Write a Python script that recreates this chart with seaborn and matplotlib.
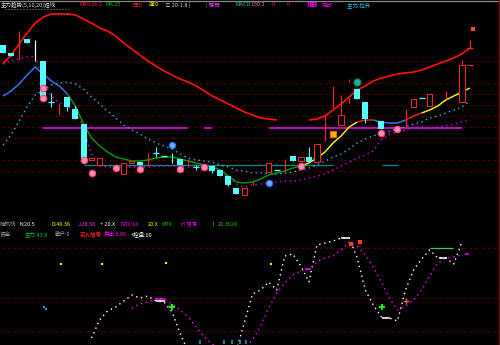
import numpy as np
import pandas as pd
import matplotlib
matplotlib.use("Agg")
import matplotlib.pyplot as plt
from matplotlib.lines import Line2D
import seaborn as sns

NAN = np.nan

# ---------------- data (screen levels: larger level = drawn lower) ----------------
day = np.arange(59)

arc_line = [64, 55, 44, 33, 23, 17, 14, 14, 14, 15,
            19, 23, 28, 31, 36, 43, 49, 55, 61, 66,
            71, 75, 79, 82, 86, 91, 96, 100, 104, 108,
            112, 115, 118, 119, 120, NAN, NAN, NAN, 120, 119,
            116, 110, 104, 97, 90, 86, 81, 78, 76, 74,
            73, 72, 70, 67, 64, 61, 58, 54, 48]

trend_line = [96, 91, 84, 75, 67, 74, 81, 86, 94, 106,
              124, 138, 146, 152, 157, 159, 161, 161, 160, 158,
              157, 157, 159, 161, 163, 165, 167, 170, 176, 182,
              183, 182, 179, 175, 173, 171, 168, 166, 163, 158,
              152, 143, 136, 127, 122, 120, 120, 122, 123, 123,
              120, 116, 113, 110, 106, 100, 96, 92, 88]

ma_cyan = [145, 135, 121, 107, 95, 90, 85, 83, 82, 84,
           89, 97, 104, 111, 118, 125, 130, 134, 139, 143,
           146, 149, 154, 158, 160, 161, 162, 165, 167, 170,
           171, 173, 173, 174, 174, 173, 172, 170, 168, 165,
           161, 157, 154, 149, 143, 139, 136, 133, 131, 129,
           127, 124, 122, 118, 116, 113, 110, 107, 101]

ma_magenta = [64, 61, 59, 57, 56, 82, 96, 103, 107, 110,
              128, 155, 166, 167, 167, 167, 167, 167, 167, 166,
              166, 166, 166, 167, 167, 168, 170, 171, 177, 184,
              187, 185, 184, 183, 182, 181, 181, 180, 178, 176,
              174, 170, 166, 162, 158, 155, 151, 140, 134, 132,
              130, 127, 127, 128, 127, 126, 124, 122, 120]

# trend line colour runs (start day, end day, colour)
trend_runs = [(0, 8, "#2f7fff"), (8, 37, "#00a000"), (37, 44, "#ffff00"),
              (44, 46, "#ff2020"), (46, 50, "#2f7fff"), (50, 52, "#ff2020"),
              (52, 58, "#ffff00")]

# falling candles (cyan filled)
down_idx = [0, 1, 3, 5, 8, 9, 10, 14, 17, 22, 26, 27, 28, 29, 36, 38, 44, 45, 47]
down_open = [45, 53, 39, 61, 97, 109, 124, 166, 162, 159, 166, 170, 176, 188, 156, 157, 89, 102, 121]
down_close = [53, 56, 43, 99, 107, 119, 161, 169, 165, 165, 171, 176, 185, 194, 161, 162, 99, 119, 129]
down_high = [45, 53, 39, 61, 97, 106, 124, 166, 162, 159, 166, 170, 176, 188, 156, 147, 89, 102, 121]
down_low = [53, 56, 43, 99, 111, 119, 161, 169, 165, 165, 173, 176, 186, 194, 161, 162, 99, 123, 129]

# rising candles (red hollow)
up_idx = [11, 12, 15, 16, 25, 30, 33, 37, 39, 42, 51, 53, 57]
up_close = [158, 158, 163, 161, 166, 188, 163, 157, 144, 115, 99, 94, 65]
up_open = [160, 165, 174, 163, 168, 195, 172, 161, 162, 125, 107, 106, 102]
up_high = [157, 158, 163, 161, 166, 188, 163, 157, 144, 95, 99, 94, 60]
up_low = [160, 165, 174, 163, 168, 195, 172, 161, 162, 125, 107, 106, 102]

# cyan doji candles
doji_idx = [6, 19, 20, 24, 34, 52]
doji_level = [102, 153, 156, 167, 170, 98]
doji_high = [93, 147, 156, 165, 170, 98]
doji_low = [107, 157, 156, 170, 170, 98]

# shadow-only sticks
red_stick_idx = [2, 7, 18, 23, 31, 35, 40, 41, 43, 43, 50, 55, 58]
red_stick_high = [31, 104, 153, 159, 182, 159, 116, 86, 79, 98, 109, 91, 40]
red_stick_low = [60, 115, 166, 165, 185, 172, 141, 108, 82, 103, 127, 99, 48]
cyan_stick_idx = [21]
cyan_stick_high = [153]
cyan_stick_low = [163]
white_stick_idx = [4]
white_stick_high = [40]
white_stick_low = [61]
red_tick_idx = [58, 58]
red_tick_level = [48, 65]

# signal markers
pink_idx = [5, 5, 10, 11, 14, 17, 22, 25, 37, 47, 49]
pink_level = [88, 98, 160, 173, 168, 169, 169, 167, 166, 133, 129]
blue_idx = [21, 33]
blue_level = [145, 183]
teal_idx = [44]
teal_level = [82]
gold_idx = [41]
gold_level = [134]
orange_idx = [58.4]
orange_level = [29]

# horizontal support / pressure lines (start day, end day, level)
magenta_support = [(4.97, 23.0, 128), (24.97, 25.96, 128), (33.0, 57.0, 128)]
teal_support = [(10.06, 41.0, 165), (47.08, 49.07, 165)]

main_grid = [61, 83, 94, 105, 116, 127, 138, 160, 171]
low_grid = [248, 298, 331]

# lower indicator panel
osc_white = [NAN] * 11 + [338, 320, 311, 307, 301, 295, 298, 296, 301, 302,
                          312, 333, 352, 355, 352, 352, 355, 355, 350, 322,
                          294, 290, 282, 290, 256, 254, 266, 282, 245, 243,
                          241, 238, 238, 258, 290, 305, 317, 318, 321, 290,
                          270, 259, 250, 258, 258, 264, 242, NAN]
osc_magenta = [NAN] * 16 + [308, 304, 302, 299, 299, 304, 310, 317, 327, 337,
                            344, 350, 352, 352, 348, 340, 326, 308, 293, 283,
                            275, 271, 269, 262, 258, 256, 250, 242, 246, 255,
                            267, 282, 298, 310, 306, 300, 290, 276, 263, 258,
                            257, 255, NAN]

yel_idx = [7.2, 12.3, 20.2, 33.3]
yel_level = [264, 264, 263, 264]
cyan_dot_idx = [5.1, 5.35]
cyan_dot_level = [307, 309]
green_cross_idx = [21, 47.1]
green_cross_level = [307, 307]
red_cross_idx = [50.1]
red_cross_level = [301]
orange_low_idx = [43.2, 44.3]
orange_low_level = [244, 242]
white_bar = [(19.0, 20.1, 301), (42.0, 43.1, 238), (47.1, 48.1, 318), (54.1, 55.2, 258)]
magenta_bar = [(18.9, 20.1, 299), (37.5, 38.2, 269), (57.4, 57.9, 254)]
green_bar = [(53.0, 55.9, 248)]
bottom_tick_idx = [24.5, 27.5, 28.5, 29.4, 30.2]

top_texts = [
    (1, "主力趋势(5,10,20)短线", "#d8d8d8"),
    (80, "MA5:26.2", "#ff2020"),
    (106, "MA:25", "#00c000"),
    (133, "压:0", "#ff2020"),
    (149, "撑:0", "#ffff00"),
    (165, "≡ 20-1.8 |", "#b8d8b8"),
    (206, "| 强弱", "#ff40ff"),
    (235, "MACD", "#20b8b8"),
    (252, "L50.2", "#ff8080"),
    (269, "- 0", "#ff2020"),
    (287, "0", "#ff2020"),
    (307, "顶部", "#ff00ff"),
    (322, "底部", "#ff00ff"),
    (347, "主力 拉升", "#30c0ff"),
]
low_texts1 = [
    (0, "随机线", "#a0a0a0"),
    (20, "K:20.5", "#ffffff"),
    (52, "D:40.36", "#ffff00"),
    (78, "J:28.50", "#ff40ff"),
    (100, "+ 20.X", "#ffffff"),
    (120, "TRIX:18", "#ff00ff"),
    (148, "20.X", "#ffff00"),
    (162, "MTX", "#20c020"),
    (181, "H 信号", "#ff00ff"),
    (212, "|", "#ffff00"),
    (218, "20.3628", "#20c020"),
]
low_texts2 = [
    (0, "资金:", "#a0a0a0"),
    (25, "主力:43.8", "#20c020"),
    (55, "散户:0", "#a0a0a0"),
    (80, "买入信号", "#ff2020"),
    (104, "卖出:0.00", "#ff00ff"),
    (131, "+控盘:00", "#ffffff"),
]

# ---------------- drawing ----------------
sns.set_theme(style="dark")
plt.rcParams["font.family"] = ["Noto Sans CJK SC", "DejaVu Sans"]
plt.rcParams["axes.unicode_minus"] = False

W, H = 500, 345
PX = 0.72  # one pixel in points at dpi 100
XL = (-3 / 8.05, 497 / 8.05)
CW = 6 / 8.05

fig = plt.figure(figsize=(5, 3.45), dpi=100, facecolor="black")
ax = fig.add_axes([0, 130 / H, 1, 215 / H])
axl = fig.add_axes([0, 0, 1, 130 / H])
for a in (ax, axl):
    a.set_facecolor("black")

GRID_DASH = (0, (1, 2, 1, 2, 1, 5))
ax.hlines(main_grid, XL[0] + 0.3, XL[1] - 0.3, colors="#b00000", lw=PX, linestyles=[GRID_DASH])
axl.hlines(low_grid, XL[0] + 0.3, XL[1] - 0.3, colors="#b00000", lw=PX, linestyles=[GRID_DASH])


def line(a, xs, ys, color, lw, dash=None, z=3):
    d = pd.DataFrame({"x": np.asarray(xs, float), "y": np.asarray(ys, float)})
    grp = d["y"].isna().cumsum()
    for _, part in d[d["y"].notna()].groupby(grp[d["y"].notna()]):
        if len(part) < 2:
            continue
        sns.lineplot(data=part, x="x", y="y", ax=a, color=color, linewidth=lw,
                     sort=False, estimator=None, zorder=z)
        ln = a.lines[-1]
        if dash is not None:
            ln.set_dashes(dash)
        ln.set_solid_capstyle("butt")


# support lines
for s, e, lv in magenta_support:
    ax.hlines(lv, s, e, colors="#ff00ff", lw=1.5 * PX, zorder=2)
for s, e, lv in teal_support:
    ax.hlines(lv, s, e, colors="#008c8c", lw=1.3 * PX, zorder=2)

# moving averages
line(ax, day, ma_cyan, "#33b4ff", 1.4 * PX, dash=(1, 2.5), z=3)
line(ax, day, ma_magenta, "#e000e0", 1.4 * PX, dash=(1, 2.5), z=3)
line(ax, day, arc_line, "#ff1010", 1.7 * PX, z=4)
for s, e, c in trend_runs:
    line(ax, day[s:e + 1], trend_line[s:e + 1], c, 1.4 * PX, z=4)

# candles
CYAN = "#54ffff"
RED = "#ff2424"
ax.vlines(down_idx, down_high, down_low, colors=CYAN, lw=PX, zorder=5)
ax.bar(down_idx, np.array(down_close) - np.array(down_open), bottom=down_open,
       width=CW, color=CYAN, linewidth=0, zorder=6)
ax.vlines(up_idx, up_high, up_low, colors=RED, lw=PX, zorder=5)
ax.bar(up_idx, np.array(up_open) - np.array(up_close), bottom=up_close,
       width=CW * 0.9, facecolor="black", edgecolor=RED, linewidth=PX, zorder=6)
ax.vlines(doji_idx, doji_high, doji_low, colors=CYAN, lw=PX, zorder=5)
ax.hlines(doji_level, np.array(doji_idx) - CW / 2, np.array(doji_idx) + CW / 2,
          colors=CYAN, lw=1.3 * PX, zorder=6)
ax.vlines(red_stick_idx, red_stick_high, red_stick_low, colors=RED, lw=1.2 * PX, zorder=5)
ax.vlines(cyan_stick_idx, cyan_stick_high, cyan_stick_low, colors=CYAN, lw=1.2 * PX, zorder=5)
ax.vlines(white_stick_idx, white_stick_high, white_stick_low, colors="white", lw=1.2 * PX, zorder=5)
ax.hlines(red_tick_level, np.array(red_tick_idx) - CW / 2, np.array(red_tick_idx) + CW / 2,
          colors=RED, lw=1.2 * PX, zorder=6)

# markers
sns.scatterplot(x=pink_idx, y=pink_level, ax=ax, color="#ff8fb4", edgecolor="#ff3c78",
                linewidth=0.8, s=22, zorder=8)
sns.scatterplot(x=blue_idx, y=blue_level, ax=ax, color="#6aa8ff", edgecolor="#3070ff",
                linewidth=0.8, s=20, zorder=8)
sns.scatterplot(x=teal_idx, y=teal_level, ax=ax, color="#20b090", edgecolor="#108060",
                linewidth=0.8, s=26, zorder=8)
sns.scatterplot(x=gold_idx, y=gold_level, ax=ax, color="#ffb000", edgecolor="#e07000",
                linewidth=0.8, marker="s", s=22, zorder=8)
sns.scatterplot(x=orange_idx, y=orange_level, ax=ax, color="#ff5010", linewidth=0,
                marker="s", s=5, zorder=8)
ax.hlines([9], 0.25, 8.3, colors="#70b070", lw=PX, linestyles=[(0, (1, 2))])

# lower panel
line(axl, day, osc_white, "white", 1.4 * PX, dash=(1, 2.6), z=4)
line(axl, day, osc_magenta, "#ff00ff", 1.4 * PX, dash=(1, 2.6), z=4)
for s, e, lv in white_bar:
    axl.hlines(lv, s, e, colors="white", lw=1.5 * PX, zorder=5)
for s, e, lv in magenta_bar:
    axl.hlines(lv, s, e, colors="#ff00ff", lw=1.5 * PX, zorder=5)
for s, e, lv in green_bar:
    axl.hlines(lv, s, e, colors="#50c050", lw=1.3 * PX, zorder=5)
axl.vlines(bottom_tick_idx, 340, 344, colors="#20a8c8", lw=1.5 * PX, zorder=5)
sns.scatterplot(x=yel_idx, y=yel_level, ax=axl, color="#ffff00", marker="s", s=4, linewidth=0, zorder=6)
sns.scatterplot(x=cyan_dot_idx, y=cyan_dot_level, ax=axl, color="#20a0ff", marker="s", s=2, linewidth=0, zorder=6)
sns.scatterplot(x=green_cross_idx, y=green_cross_level, ax=axl, color="#00ff00", marker="P", s=14, linewidth=0, zorder=6)
sns.scatterplot(x=red_cross_idx, y=red_cross_level, ax=axl, color="#ff5050", marker="+", s=20, linewidth=1, zorder=6)
sns.scatterplot(x=orange_low_idx, y=orange_low_level, ax=axl, color="#ff4010", marker="s", s=10, linewidth=0, zorder=6)

for a, yl in ((ax, (215, 0)), (axl, (345, 215))):
    a.set_xlim(*XL)
    a.set_ylim(*yl)
    a.set_axis_off()

# header texts
FS = 4.0
for x, s, c in top_texts:
    fig.text(x / W, 1 - 5 / H, s, color=c, fontsize=FS, ha="left", va="center",
             fontweight="bold" if s == "顶部" else "normal")
for x, s, c in low_texts1:
    fig.text(x / W, 1 - 224 / H, s, color=c, fontsize=FS, ha="left", va="center")
for x, s, c in low_texts2:
    fig.text(x / W, 1 - 234 / H, s, color=c, fontsize=FS, ha="left", va="center",
             fontweight="bold" if s == "买入信号" else "normal")

# frame lines
fig.add_artist(Line2D([0, 1], [1 - 0.8 / H] * 2, transform=fig.transFigure, color="#8a8a8a", lw=1.2 * PX))
fig.add_artist(Line2D([499 / W] * 2, [0, 1], transform=fig.transFigure, color="#900000", lw=1.2 * PX))

fig.savefig("out.png", dpi=100, facecolor="black")
